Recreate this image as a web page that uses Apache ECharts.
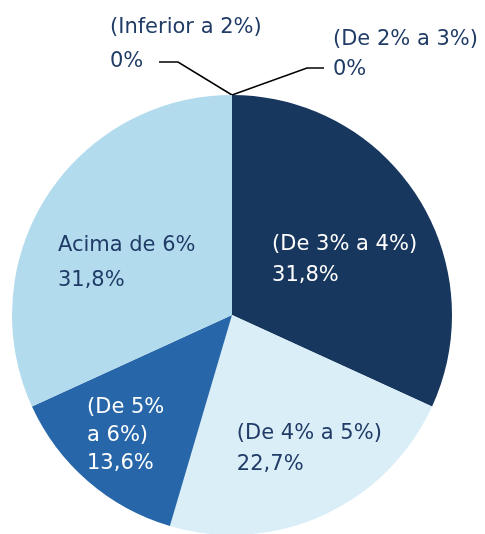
<!DOCTYPE html>
<html>
<head>
<meta charset="utf-8">
<script src="https://cdn.jsdelivr.net/npm/echarts@6/dist/echarts.min.js"></script>
<style>
  html, body { margin: 0; padding: 0; background: #fff; }
  #chart { width: 485px; height: 534px; }
</style>
</head>
<body>
<div id="chart"></div>
<script>
// faixas e valores (%)
const categorias = ["(Inferior a 2%)", "(De 2% a 3%)", "(De 3% a 4%)", "(De 4% a 5%)", "(De 5% a 6%)", "Acima de 6%"];
const rotulos = ["(Inferior a 2%)", "(De 2% a 3%)", "(De 3% a 4%)", "(De 4% a 5%)", "(De 5%\na 6%)", "Acima de 6%"];
const valores = [0, 0, 31.8, 22.7, 13.6, 31.8];

const cores = ["#b3dbee", "#17375e", "#17375e", "#daeef8", "#2767a9", "#b3dbee"];
const corTexto = ["#1f3b66", "#1f3b66", "#ffffff", "#1f3b66", "#ffffff", "#1f3b66"];
// deslocamento e entrelinha dos rotulos internos
const deslocamentos = [null, null, [20, 6], [33, 31], [4, 35], [-4, 9]];
const entrelinhas = [34, 30, 31, 31, 28, 35];

const fmt = (v) => (v === 0 ? "0%" : v.toFixed(1).replace(".", ",") + "%");

const myChart = echarts.init(document.getElementById("chart"));

const dados = categorias.map((nome, i) => {
  const item = {
    name: nome,
    value: valores[i],
    itemStyle: { color: cores[i] },
  };
  if (valores[i] === 0) {
    item.label = {
      position: "outside",
      color: corTexto[i],
      lineHeight: entrelinhas[i],
      formatter: rotulos[i] + "\n" + fmt(valores[i]),
    };
    item.labelLine = { show: true, lineStyle: { color: "#000", width: 1.5 } };
  } else {
    const linhas = (rotulos[i] + "\n" + fmt(valores[i])).split("\n");
    item.label = {
      position: "inside",
      offset: deslocamentos[i],
      formatter: linhas.map((l) => "{t|" + l + "}").join("\n"),
      rich: {
        t: {
          width: 150, align: "left", color: corTexto[i],
          fontSize: 21, lineHeight: entrelinhas[i], fontFamily: "DejaVu Sans",
        },
      },
    };
    item.labelLine = { show: false };
  }
  return item;
});

const option = {
  backgroundColor: "#fff",
  animation: false,
  series: [
    {
      type: "pie",
      center: [232, 315],
      radius: 220,
      startAngle: 90,
      clockwise: true,
      avoidLabelOverlap: false,
      label: {
        fontFamily: "DejaVu Sans",
        fontSize: 21,
        lineHeight: 34,
      },
      labelLine: { length: 30, length2: 20 },
      labelLayout: (p) => {
        if (valores[p.dataIndex] !== 0 || !p.labelLinePoints) return {};
        const a = p.labelLinePoints[0];
        if (p.dataIndex === 0) {
          return {
            x: a[0] - 122, y: a[1] - 50, align: "left", verticalAlign: "middle",
            labelLinePoints: [a, [a[0] - 54, a[1] - 33], [a[0] - 73, a[1] - 33]],
          };
        }
        return {
          x: a[0] + 101, y: a[1] - 40, align: "left", verticalAlign: "middle",
          labelLinePoints: [a, [a[0] + 75, a[1] - 27], [a[0] + 92, a[1] - 27]],
        };
      },
      data: dados,
    },
  ],
};
myChart.setOption(option);
</script>
</body>
</html>
